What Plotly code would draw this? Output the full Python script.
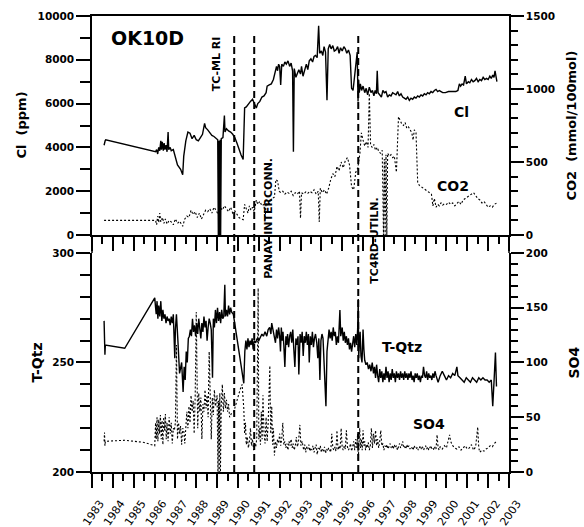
import plotly.graph_objects as go

# ---------------- data ----------------
cl_year = [1983.58, 1983.60, 1983.63, 1983.66,
           1986.05, 1986.10, 1986.15, 1986.20, 1986.25, 1986.30, 1986.33, 1986.37, 1986.42, 1986.46,
           1986.50, 1986.55, 1986.60, 1986.65, 1986.68, 1986.75, 1986.80, 1986.90, 1987.00, 1987.10,
           1987.25, 1987.35, 1987.40, 1987.50, 1987.60, 1987.70, 1987.80, 1987.90, 1988.00, 1988.10,
           1988.20, 1988.30, 1988.40, 1988.45, 1988.55, 1988.65, 1988.75, 1988.85, 1988.95, 1989.03,
           1989.06, 1989.09, 1989.12, 1989.15, 1989.17, 1989.20, 1989.28, 1989.35, 1989.38, 1989.45,
           1989.55, 1989.65, 1989.75, 1989.85, 1989.95, 1990.05, 1990.15, 1990.25, 1990.32, 1990.40,
           1990.50, 1990.60, 1990.70, 1990.78, 1990.88, 1990.95, 1991.05, 1991.15, 1991.25, 1991.35,
           1991.40, 1991.50, 1991.60, 1991.70, 1991.75, 1991.80, 1991.85, 1991.90, 1991.95, 1992.00,
           1992.05, 1992.10, 1992.18, 1992.25, 1992.32, 1992.40, 1992.48, 1992.55, 1992.62, 1992.66,
           1992.70, 1992.78, 1992.85, 1992.92, 1993.00, 1993.05, 1993.12, 1993.20, 1993.28, 1993.35,
           1993.42, 1993.50, 1993.58, 1993.65, 1993.72, 1993.80, 1993.87, 1993.92, 1994.00, 1994.07,
           1994.13, 1994.20, 1994.27, 1994.33, 1994.40, 1994.47, 1994.55, 1994.62, 1994.70, 1994.78,
           1994.85, 1994.92, 1995.00, 1995.08, 1995.15, 1995.22, 1995.30, 1995.38, 1995.45, 1995.52,
           1995.58, 1995.66, 1995.72, 1995.76, 1995.78, 1995.82, 1995.87, 1995.93, 1996.00, 1996.08,
           1996.15, 1996.22, 1996.30, 1996.38, 1996.45, 1996.52, 1996.58, 1996.64, 1996.68, 1996.72,
           1996.80, 1996.88, 1996.95, 1997.02, 1997.10, 1997.18, 1997.26, 1997.34, 1997.42, 1997.50,
           1997.58, 1997.66, 1997.74, 1997.82, 1997.90, 1997.98, 1998.06, 1998.14, 1998.22, 1998.30,
           1998.38, 1998.46, 1998.54, 1998.62, 1998.70, 1998.78, 1998.86, 1998.94, 1999.02, 1999.10,
           1999.18, 1999.26, 1999.34, 1999.42, 1999.50, 1999.58, 1999.66, 1999.74, 1999.82, 1999.95,
           2000.10, 2000.25, 2000.35, 2000.45, 2000.55, 2000.62, 2000.68, 2000.75, 2000.82, 2000.90,
           2000.96, 2001.05, 2001.12, 2001.20, 2001.28, 2001.36, 2001.44, 2001.52, 2001.60, 2001.68,
           2001.76, 2001.84, 2001.92, 2002.00, 2002.08, 2002.15, 2002.22, 2002.28, 2002.33, 2002.37,
           2002.42]
cl_ppm = [4100, 4250, 4300, 4350,
          3800, 3900, 3700, 4000, 3850, 4300, 3900, 4250, 3850, 4200,
          3900, 4100, 3800, 4700, 3900, 4000, 3850, 3900, 3600, 3200,
          3000, 2750, 3600, 4300, 4700, 4650, 4400, 4550, 4350, 4300,
          4450, 4600, 5100, 4900, 4800, 4700, 4550, 4500, 4400, 4350,
          0, 4300, 0, 4350, 0, 4400, 4450, 5450, 4700, 4850,
          4750, 4700, 4600, 4450, 4200, 3900, 3650, 3450, 5800, 5850,
          6000, 6100, 6200, 6050, 5800, 6000, 6100, 6300, 6350, 6500,
          6800, 6850, 6900, 7100, 7300, 7600, 7700, 7500, 7800, 7700,
          6850, 7800, 7700, 7900, 7800, 7950, 7700, 7850, 7500, 3800,
          7600, 7200, 7400, 7550, 7350, 7700, 7250, 7600, 7800, 7550,
          7950, 8050, 7900, 8150, 8200, 8100, 9550, 8300, 8400, 8200,
          8600, 8350, 6150, 8500, 8700, 8500, 8650, 8400, 8450, 8600,
          8300, 8550, 8400, 8600, 8500, 8300, 8450, 8200, 6700, 6600,
          7100, 8000, 8350, 6100, 7100, 6500, 6900, 6600, 6800, 6500,
          6700, 6400, 6750, 6500, 6600, 6350, 6600, 6450, 7500, 6500,
          6400, 6300, 6600, 6500, 6550, 6300, 6400, 6350, 6500, 6450,
          6400, 6550, 6350, 6450, 6300, 6250, 6200, 6300, 6150, 6250,
          6200, 6300, 6250, 6350, 6300, 6400, 6350, 6450, 6400, 6500,
          6450, 6550, 6500, 6600, 6650, 6550, 6600, 6550, 6500, 6500,
          6550, 6550, 6550, 6550, 6600, 6900, 6800, 6900, 6850, 7250,
          6900, 7000, 6950, 7100, 7000, 7050, 7150, 7000, 7100, 7050,
          7200, 7100, 7150, 7100, 7250, 7150, 7300, 7200, 7500, 7250,
          7000]

co2_year = [1983.58, 1984.50, 1985.50, 1986.05, 1986.10, 1986.15, 1986.20, 1986.25, 1986.30, 1986.38,
            1986.45, 1986.52, 1986.60, 1986.70, 1986.80, 1986.90, 1987.00, 1987.10, 1987.20, 1987.35,
            1987.45, 1987.55, 1987.65, 1987.75, 1987.85, 1987.95, 1988.05, 1988.15, 1988.25, 1988.35,
            1988.45, 1988.55, 1988.65, 1988.75, 1988.85, 1988.95, 1989.05, 1989.15, 1989.25, 1989.35,
            1989.45, 1989.55, 1989.65, 1989.75, 1989.85, 1989.95, 1990.05, 1990.15, 1990.25, 1990.32,
            1990.40, 1990.48, 1990.55, 1990.62, 1990.70, 1990.78, 1990.88, 1990.95, 1991.05, 1991.15,
            1991.25, 1991.30, 1991.35, 1991.45, 1991.55, 1991.65, 1991.75, 1991.82, 1991.90, 1991.98,
            1992.05, 1992.15, 1992.25, 1992.35, 1992.45, 1992.55, 1992.65, 1992.75, 1992.85, 1992.95,
            1993.00, 1993.05, 1993.15, 1993.25, 1993.35, 1993.45, 1993.55, 1993.65, 1993.75, 1993.85,
            1993.90, 1993.95, 1994.05, 1994.15, 1994.25, 1994.35, 1994.45, 1994.55, 1994.65, 1994.75,
            1994.85, 1994.95, 1995.05, 1995.15, 1995.25, 1995.35, 1995.45, 1995.55, 1995.65, 1995.75,
            1995.85, 1995.92, 1996.00, 1996.08, 1996.16, 1996.24, 1996.30, 1996.36, 1996.44, 1996.52,
            1996.60, 1996.68, 1996.76, 1996.84, 1996.92, 1996.98, 1997.02, 1997.06, 1997.10, 1997.14,
            1997.18, 1997.26, 1997.34, 1997.42, 1997.50, 1997.60, 1997.70, 1997.78, 1997.86, 1997.94,
            1998.02, 1998.10, 1998.18, 1998.26, 1998.34, 1998.40, 1998.46, 1998.54, 1998.62, 1998.70,
            1998.80, 1998.90, 1999.00, 1999.10, 1999.20, 1999.28, 1999.35, 1999.42, 1999.50, 1999.58,
            1999.66, 1999.74, 1999.82, 1999.90, 2000.00, 2000.10, 2000.20, 2000.30, 2000.40, 2000.50,
            2000.60, 2000.70, 2000.80, 2000.90, 2001.00, 2001.10, 2001.20, 2001.30, 2001.40, 2001.50,
            2001.60, 2001.70, 2001.80, 2001.90, 2002.00, 2002.10, 2002.20, 2002.30, 2002.42]
co2_mmol = [100, 100, 95, 100, 70, 130, 85, 150, 90, 120,
            80, 110, 75, 100, 90, 70, 110, 80, 95, 60,
            110, 130, 120, 170, 140, 160, 120, 150, 110, 135,
            170, 160, 180, 150, 190, 170, 140, 190, 170, 200,
            180, 160, 190, 150, 165, 140, 120, 110, 105, 210,
            180, 150, 200, 170, 190, 160, 240, 210, 230, 200,
            210, 100, 220, 200, 230, 250, 260, 380, 370, 300,
            290, 300, 280, 295, 285, 300, 270, 290, 280, 300,
            115, 290, 280, 295, 285, 300, 290, 310, 280, 300,
            90, 320, 290, 310, 280, 320, 380, 420, 400, 470,
            440, 500, 460, 510, 530, 480, 330, 310, 430, 460,
            560, 700, 650, 610, 640, 600, 970, 620, 600, 620,
            580, 600, 570, 560, 580, 0, 520, 0, 550, 0,
            560, 540, 550, 530, 540, 430, 810, 780, 760, 750,
            770, 730, 740, 720, 700, 650, 720, 700, 360, 340,
            330, 320, 310, 300, 290, 280, 200, 250, 190, 210,
            200, 220, 205, 215, 210, 225, 210, 220, 200, 215,
            230, 210, 240, 250, 260, 270, 280, 290, 270, 250,
            240, 220, 230, 210, 190, 200, 190, 210, 220]

tqtz_year = [1983.58, 1983.60, 1983.62, 1983.64, 1984.57, 1986.01, 1986.05, 1986.08, 1986.12, 1986.16,
             1986.20, 1986.25, 1986.30, 1986.35, 1986.40, 1986.45, 1986.50, 1986.55, 1986.60, 1986.65,
             1986.70, 1986.75, 1986.80, 1986.85, 1986.90, 1986.97, 1987.00, 1987.05, 1987.12, 1987.20,
             1987.30, 1987.37, 1987.42, 1987.47, 1987.52, 1987.57, 1987.62, 1987.67, 1987.72, 1987.77,
             1987.82, 1987.87, 1987.92, 1987.97, 1988.02, 1988.07, 1988.12, 1988.17, 1988.22, 1988.27,
             1988.32, 1988.37, 1988.42, 1988.47, 1988.52, 1988.57, 1988.62, 1988.67, 1988.72, 1988.78,
             1988.82, 1988.87, 1988.92, 1988.97, 1989.02, 1989.07, 1989.12, 1989.17, 1989.22, 1989.27,
             1989.32, 1989.37, 1989.40, 1989.45, 1989.50, 1989.55, 1989.60, 1989.65, 1989.70, 1989.78,
             1989.90, 1990.00, 1990.10, 1990.20, 1990.28, 1990.33, 1990.38, 1990.43, 1990.48, 1990.53,
             1990.58, 1990.63, 1990.68, 1990.73, 1990.78, 1990.85, 1990.92, 1991.00, 1991.08, 1991.15,
             1991.22, 1991.30, 1991.38, 1991.45, 1991.52, 1991.58, 1991.62, 1991.68, 1991.75, 1991.80,
             1991.85, 1991.90, 1991.95, 1992.00, 1992.04, 1992.08, 1992.12, 1992.16, 1992.20, 1992.25,
             1992.30, 1992.34, 1992.38, 1992.43, 1992.48, 1992.53, 1992.58, 1992.63, 1992.68, 1992.73,
             1992.78, 1992.83, 1992.88, 1992.92, 1992.98, 1993.03, 1993.08, 1993.13, 1993.18, 1993.23,
             1993.28, 1993.33, 1993.38, 1993.42, 1993.47, 1993.52, 1993.57, 1993.62, 1993.67, 1993.72,
             1993.78, 1993.83, 1993.88, 1993.93, 1993.98, 1994.03, 1994.08, 1994.12, 1994.17, 1994.22,
             1994.27, 1994.32, 1994.37, 1994.42, 1994.47, 1994.52, 1994.57, 1994.62, 1994.67, 1994.72,
             1994.77, 1994.82, 1994.86, 1994.89, 1994.93, 1995.00, 1995.05, 1995.10, 1995.15, 1995.20,
             1995.25, 1995.30, 1995.35, 1995.40, 1995.45, 1995.50, 1995.55, 1995.60, 1995.65, 1995.70,
             1995.74, 1995.77, 1995.79, 1995.82, 1995.86, 1995.90, 1995.95, 1996.00, 1996.04, 1996.08,
             1996.14, 1996.20, 1996.26, 1996.32, 1996.38, 1996.44, 1996.50, 1996.55, 1996.60, 1996.65,
             1996.70, 1996.75, 1996.80, 1996.85, 1996.90, 1996.95, 1997.00, 1997.05, 1997.10, 1997.15,
             1997.20, 1997.25, 1997.30, 1997.35, 1997.40, 1997.45, 1997.50, 1997.55, 1997.60, 1997.65,
             1997.70, 1997.75, 1997.80, 1997.85, 1997.90, 1997.95, 1998.00, 1998.05, 1998.10, 1998.15,
             1998.20, 1998.25, 1998.30, 1998.35, 1998.40, 1998.45, 1998.50, 1998.55, 1998.60, 1998.65,
             1998.70, 1998.75, 1998.80, 1998.85, 1998.90, 1998.95, 1999.00, 1999.05, 1999.10, 1999.15,
             1999.20, 1999.25, 1999.30, 1999.35, 1999.40, 1999.45, 1999.50, 1999.55, 1999.60, 1999.70,
             1999.80, 1999.90, 2000.00, 2000.10, 2000.20, 2000.30, 2000.40, 2000.50, 2000.55, 2000.65,
             2000.75, 2000.85, 2000.95, 2001.05, 2001.15, 2001.25, 2001.35, 2001.45, 2001.55, 2001.65,
             2001.75, 2001.85, 2001.95, 2002.05, 2002.15, 2002.22, 2002.28, 2002.35, 2002.40]
tqtz_val = [269, 262, 253.5, 258, 256.5, 279.5, 275, 272, 278, 270,
            276, 271, 278, 269, 274, 270, 272, 268, 271, 269,
            270, 267, 271, 268, 272, 252, 265, 272, 260, 245,
            250, 236.5, 248, 242, 255, 250, 261, 262, 265, 262,
            270, 264, 267, 262, 268, 263, 270, 265, 261, 268,
            264, 271, 266, 269, 260, 266, 270, 268, 265, 243,
            270, 266, 274, 268, 275, 269, 273, 268, 274, 270,
            271, 285.5, 271, 274, 271, 276, 272, 275, 273, 272,
            264, 257, 252, 246, 240.5, 255, 260, 256, 261, 257,
            260, 258, 261, 256, 260, 259, 261, 260, 262, 263,
            262, 264, 262, 265, 266, 263, 268, 265, 262, 259,
            265, 261, 266, 262, 255, 266, 260, 264, 258, 248,
            262, 258, 263, 257, 262, 264, 259, 265, 256, 248,
            261, 258, 262, 244.5, 263, 259, 264, 253, 262, 259,
            264, 258, 263, 250, 262, 258, 264, 257, 261, 263,
            259, 252, 261, 242, 260, 263, 261, 252, 246, 230,
            255, 262, 265, 261, 264, 260, 266, 262, 264, 258,
            262, 259, 265, 274, 262, 266, 260, 264, 259, 262,
            258, 261, 256, 259, 255, 258, 262, 257, 263, 258,
            265, 279, 252, 258, 264, 253, 250, 265, 256, 251,
            249, 250, 247, 249, 246, 250, 245, 248, 243, 249,
            244, 241, 247, 243, 246, 241, 245, 242, 248, 243,
            246, 241, 245, 242, 247, 243, 245, 241, 246, 243,
            245, 242, 246, 243, 245, 242, 246, 243, 245, 242,
            245, 243, 246, 242, 244, 241, 245, 243, 245, 242,
            244, 241, 244, 243, 248, 244, 243, 246, 242, 245,
            243, 244, 242, 245, 243, 246, 244, 242, 241, 244,
            246, 244, 242, 244, 243, 245, 244, 248, 244, 243,
            242, 241, 243, 242, 241, 243, 242, 241, 243, 242,
            243, 242, 242, 241, 242, 230, 241, 254.5, 239]

so4_year = [1983.58, 1983.60, 1983.62, 1983.64, 1984.57, 1985.50, 1986.01, 1986.05, 1986.08, 1986.12,
            1986.16, 1986.20, 1986.24, 1986.28, 1986.32, 1986.36, 1986.40, 1986.44, 1986.48, 1986.52,
            1986.56, 1986.60, 1986.65, 1986.70, 1986.75, 1986.80, 1986.85, 1986.90, 1986.95, 1987.00,
            1987.05, 1987.10, 1987.15, 1987.20, 1987.25, 1987.30, 1987.35, 1987.40, 1987.45, 1987.50,
            1987.55, 1987.60, 1987.65, 1987.70, 1987.75, 1987.80, 1987.85, 1987.90, 1987.95, 1988.00,
            1988.03, 1988.07, 1988.12, 1988.17, 1988.22, 1988.27, 1988.32, 1988.37, 1988.42, 1988.47,
            1988.52, 1988.57, 1988.62, 1988.67, 1988.72, 1988.77, 1988.82, 1988.87, 1988.92, 1989.00,
            1989.04, 1989.07, 1989.10, 1989.13, 1989.16, 1989.20, 1989.25, 1989.30, 1989.35, 1989.40,
            1989.45, 1989.50, 1989.55, 1989.60, 1989.70, 1989.80, 1989.90, 1990.00, 1990.10, 1990.20,
            1990.28, 1990.32, 1990.36, 1990.40, 1990.45, 1990.50, 1990.55, 1990.60, 1990.65, 1990.70,
            1990.75, 1990.80, 1990.85, 1990.90, 1990.97, 1991.00, 1991.04, 1991.08, 1991.12, 1991.16,
            1991.20, 1991.25, 1991.30, 1991.35, 1991.40, 1991.45, 1991.53, 1991.57, 1991.62, 1991.66,
            1991.70, 1991.75, 1991.80, 1991.85, 1991.90, 1991.95, 1992.00, 1992.05, 1992.10, 1992.15,
            1992.20, 1992.25, 1992.30, 1992.35, 1992.40, 1992.45, 1992.50, 1992.55, 1992.60, 1992.65,
            1992.70, 1992.75, 1992.80, 1992.85, 1992.90, 1992.97, 1993.02, 1993.08, 1993.15, 1993.20,
            1993.25, 1993.30, 1993.35, 1993.40, 1993.45, 1993.50, 1993.55, 1993.60, 1993.65, 1993.70,
            1993.75, 1993.80, 1993.85, 1993.90, 1993.95, 1994.00, 1994.05, 1994.10, 1994.15, 1994.20,
            1994.25, 1994.30, 1994.35, 1994.40, 1994.45, 1994.50, 1994.55, 1994.60, 1994.65, 1994.70,
            1994.75, 1994.80, 1994.85, 1994.90, 1994.95, 1995.00, 1995.05, 1995.10, 1995.15, 1995.20,
            1995.25, 1995.30, 1995.35, 1995.40, 1995.45, 1995.50, 1995.55, 1995.60, 1995.65, 1995.70,
            1995.74, 1995.77, 1995.80, 1995.84, 1995.88, 1995.92, 1995.96, 1996.00, 1996.04, 1996.08,
            1996.12, 1996.16, 1996.20, 1996.25, 1996.30, 1996.35, 1996.40, 1996.45, 1996.50, 1996.55,
            1996.60, 1996.65, 1996.70, 1996.75, 1996.80, 1996.85, 1996.90, 1996.95, 1997.00, 1997.05,
            1997.10, 1997.15, 1997.20, 1997.25, 1997.30, 1997.35, 1997.40, 1997.45, 1997.50, 1997.55,
            1997.60, 1997.65, 1997.70, 1997.75, 1997.80, 1997.85, 1997.90, 1997.95, 1998.00, 1998.05,
            1998.10, 1998.15, 1998.20, 1998.25, 1998.30, 1998.35, 1998.40, 1998.45, 1998.50, 1998.55,
            1998.60, 1998.65, 1998.70, 1998.75, 1998.80, 1998.85, 1998.90, 1998.95, 1999.00, 1999.05,
            1999.10, 1999.15, 1999.20, 1999.25, 1999.30, 1999.35, 1999.40, 1999.45, 1999.50, 1999.55,
            1999.60, 1999.65, 1999.70, 1999.80, 1999.90, 2000.00, 2000.10, 2000.15, 2000.20, 2000.30,
            2000.40, 2000.50, 2000.60, 2000.70, 2000.80, 2000.90, 2001.00, 2001.10, 2001.20, 2001.30,
            2001.40, 2001.50, 2001.55, 2001.60, 2001.70, 2001.80, 2001.90, 2002.00, 2002.10, 2002.20,
            2002.30, 2002.40]
so4_val = [28, 36, 24, 28, 29, 27, 24, 45, 30, 50,
           28, 48, 35, 52, 30, 47, 25, 50, 38, 53,
           30, 45, 28, 50, 35, 45, 26, 40, 38, 45,
           116, 30, 45, 35, 42, 25, 40, 38, 26, 42,
           55, 40, 60, 45, 70, 55, 65, 35, 70, 146,
           60, 40, 72, 55, 68, 30, 62, 55, 75, 58,
           70, 50, 110, 60, 30, 68, 52, 75, 60, 70,
           0, 65, 0, 72, 0, 60, 80, 55, 72, 58,
           66, 55, 62, 50, 54, 55, 62, 68, 75, 80,
           58, 35, 45, 25, 32, 22, 28, 40, 24, 30,
           20, 26, 23, 30, 168, 30, 40, 25, 55, 30,
           70, 35, 26, 50, 28, 45, 97, 35, 60, 25,
           40, 15, 28, 22, 30, 26, 35, 24, 30, 45,
           25, 28, 22, 26, 20, 28, 24, 30, 22, 26,
           20, 24, 32, 23, 27, 43, 24, 28, 20, 25,
           18, 23, 21, 25, 19, 22, 20, 24, 18, 22,
           25, 16, 22, 20, 24, 18, 21, 19, 23, 17,
           21, 19, 22, 20, 18, 35, 22, 20, 23, 19,
           38, 20, 24, 21, 40, 22, 20, 24, 21, 38,
           23, 20, 22, 26, 19, 23, 28, 20, 30, 22,
           35, 11, 25, 40, 22, 30, 20, 38, 24, 28,
           20, 25, 22, 27, 20, 24, 40, 22, 35, 26,
           38, 24, 30, 22, 28, 38, 24, 26, 20, 24,
           22, 25, 21, 23, 26, 22, 24, 21, 25, 22,
           24, 20, 23, 26, 22, 24, 28, 22, 23, 21,
           25, 22, 24, 21, 23, 22, 20, 24, 22, 21,
           23, 20, 22, 24, 21, 23, 20, 22, 24, 21,
           23, 20, 22, 24, 21, 22, 20, 23, 21, 34,
           22, 20, 23, 21, 24, 22, 30, 34, 28, 24,
           22, 21, 23, 20, 22, 24, 21, 22, 25, 20,
           23, 41, 22, 18, 20, 19, 21, 22, 24, 23,
           26, 28]

event_year = [1989.82, 1990.78, 1995.77]
event_label = ["TC-ML RI", "PANAY INTERCONN.", "TC4RD-UTILN."]
event_label_x = [1988.99, 1991.43, 1996.57]
event_label_y = [0.896, 0.557, 0.509]

year_ticks = [1983, 1984, 1985, 1986, 1987, 1988, 1989, 1990, 1991, 1992, 1993,
              1994, 1995, 1996, 1997, 1998, 1999, 2000, 2001, 2002, 2003]
year_labels = ["1983", "1984", "1985", "1986", "1987", "1988", "1989", "1990", "1991", "1992", "1993",
               "1994", "1995", "1996", "1997", "1998", "1999", "2000", "2001", "2002", "2003"]

# ---------------- figure ----------------
FONT = "DejaVu Sans"
BLACK = "black"
LW = 1.5
DOT = "2px,2px"

fig = go.Figure()
fig.add_trace(go.Scatter(x=cl_year, y=cl_ppm, mode="lines", xaxis="x2", yaxis="y",
                         line=dict(color=BLACK, width=1.4), showlegend=False, hoverinfo="skip"))
fig.add_trace(go.Scatter(x=co2_year, y=co2_mmol, mode="lines", xaxis="x2", yaxis="y2",
                         line=dict(color=BLACK, width=1.1, dash=DOT), showlegend=False, hoverinfo="skip"))
fig.add_trace(go.Scatter(x=tqtz_year, y=tqtz_val, mode="lines", xaxis="x", yaxis="y3",
                         line=dict(color=BLACK, width=1.4), showlegend=False, hoverinfo="skip"))
fig.add_trace(go.Scatter(x=so4_year, y=so4_val, mode="lines", xaxis="x", yaxis="y4",
                         line=dict(color=BLACK, width=1.1, dash=DOT), showlegend=False, hoverinfo="skip"))

TOP_LO = 0.5197
BOT_HI = 0.4803
tickfont_b = dict(family=FONT, size=10.5, color=BLACK, weight="bold")

common_x = dict(range=[1983, 2003], tickmode="array", tickvals=year_ticks, showgrid=False, zeroline=False,
                showline=True, linecolor=BLACK, linewidth=LW, ticks="outside", ticklen=14,
                tickwidth=LW, tickcolor=BLACK, automargin=False,
                minor=dict(dtick=0.5, tick0=1983, ticks="outside", ticklen=7, tickwidth=LW, tickcolor=BLACK))

common_y = dict(showgrid=False, zeroline=False, showline=True, linecolor=BLACK, linewidth=LW,
                ticks="outside", tickwidth=LW, tickcolor=BLACK, tickfont=tickfont_b,
                tickformat="d", automargin=False)

fig.update_layout(
    width=584, height=527,
    margin=dict(l=92, r=75, t=16, b=55),
    paper_bgcolor="white", plot_bgcolor="white",
    font=dict(family=FONT, color=BLACK),
    xaxis=dict(**common_x, anchor="y3", ticktext=year_labels, tickangle=-55,
               ticklabelshift=8, ticklabelstandoff=5,
               tickfont=dict(family=FONT, size=11, color=BLACK)),
    xaxis2=dict(**common_x, anchor="y", matches="x", showticklabels=False, mirror=True),
    yaxis=dict(**common_y, domain=[TOP_LO, 1], range=[0, 10000], tick0=0, dtick=2000, ticklen=14, anchor="x2",
               minor=dict(dtick=1000, ticks="outside", ticklen=10, tickwidth=LW, tickcolor=BLACK)),
    yaxis2=dict(**common_y, overlaying="y", side="right", anchor="x2", range=[0, 1500], tick0=0, dtick=500,
                ticklen=13,
                minor=dict(dtick=100, ticks="outside", ticklen=7, tickwidth=LW, tickcolor=BLACK)),
    yaxis3=dict(**common_y, domain=[0, BOT_HI], range=[200, 300], tick0=200, dtick=50, ticklen=14, anchor="x",
                minor=dict(dtick=10, ticks="outside", ticklen=10, tickwidth=LW, tickcolor=BLACK)),
    yaxis4=dict(**common_y, overlaying="y3", side="right", anchor="x", range=[0, 200], tick0=0, dtick=50,
                ticklen=13,
                minor=dict(dtick=10, ticks="outside", ticklen=7, tickwidth=LW, tickcolor=BLACK)),
)

# axis titles (placed as rotated annotations)
axis_titles = [("Cl  (ppm)", 0, (1 + TOP_LO) / 2, -70, 13),
               ("CO2  (mmol/100mol)", 1, (1 + TOP_LO) / 2, 63, 13),
               ("T-Qtz", 0, BOT_HI / 2, -55, 14),
               ("SO4", 1, BOT_HI / 2, 65, 14)]
for txt, ax, ay, sh, fs in axis_titles:
    fig.add_annotation(x=ax, y=ay, xref="paper", yref="paper", text=txt, textangle=-90, showarrow=False,
                       xanchor="center", yanchor="middle", xshift=sh,
                       font=dict(family=FONT, size=fs, color=BLACK, weight="bold"))

# axis lines bridging the gap between the two panels
for xp in (0, 1):
    fig.add_shape(type="line", xref="paper", yref="paper", x0=xp, x1=xp, y0=BOT_HI, y1=TOP_LO,
                  line=dict(color=BLACK, width=LW))

# event lines
for ev in event_year:
    fig.add_shape(type="line", xref="x", yref="paper", x0=ev, x1=ev, y0=0, y1=0.9627,
                  line=dict(color=BLACK, width=2, dash="7px,4px"))

for txt, ex, ey in zip(event_label, event_label_x, event_label_y):
    fig.add_annotation(x=ex, y=ey, xref="x", yref="paper", text=txt, textangle=-90, showarrow=False,
                       xanchor="center", yanchor="middle",
                       font=dict(family=FONT, size=11, color=BLACK, weight="bold"))

# panel / series labels
fig.add_annotation(x=1985.67, y=0.952, xref="x", yref="paper", text="OK10D", showarrow=False,
                   xanchor="center", yanchor="middle",
                   font=dict(family=FONT, size=19, color=BLACK, weight="bold"))
series_labels = [("Cl", 2000.74, 0.789), ("CO2", 2000.31, 0.627), ("T-Qtz", 1997.86, 0.274), ("SO4", 1999.16, 0.105)]
for txt, lx, ly in series_labels:
    fig.add_annotation(x=lx, y=ly, xref="x", yref="paper", text=txt, showarrow=False,
                       xanchor="center", yanchor="middle",
                       font=dict(family=FONT, size=14, color=BLACK, weight="bold"))

fig.write_html("out.html", config={"displayModeBar": False},
               post_script="document.body.style.margin='0';document.body.style.overflow='hidden';")
